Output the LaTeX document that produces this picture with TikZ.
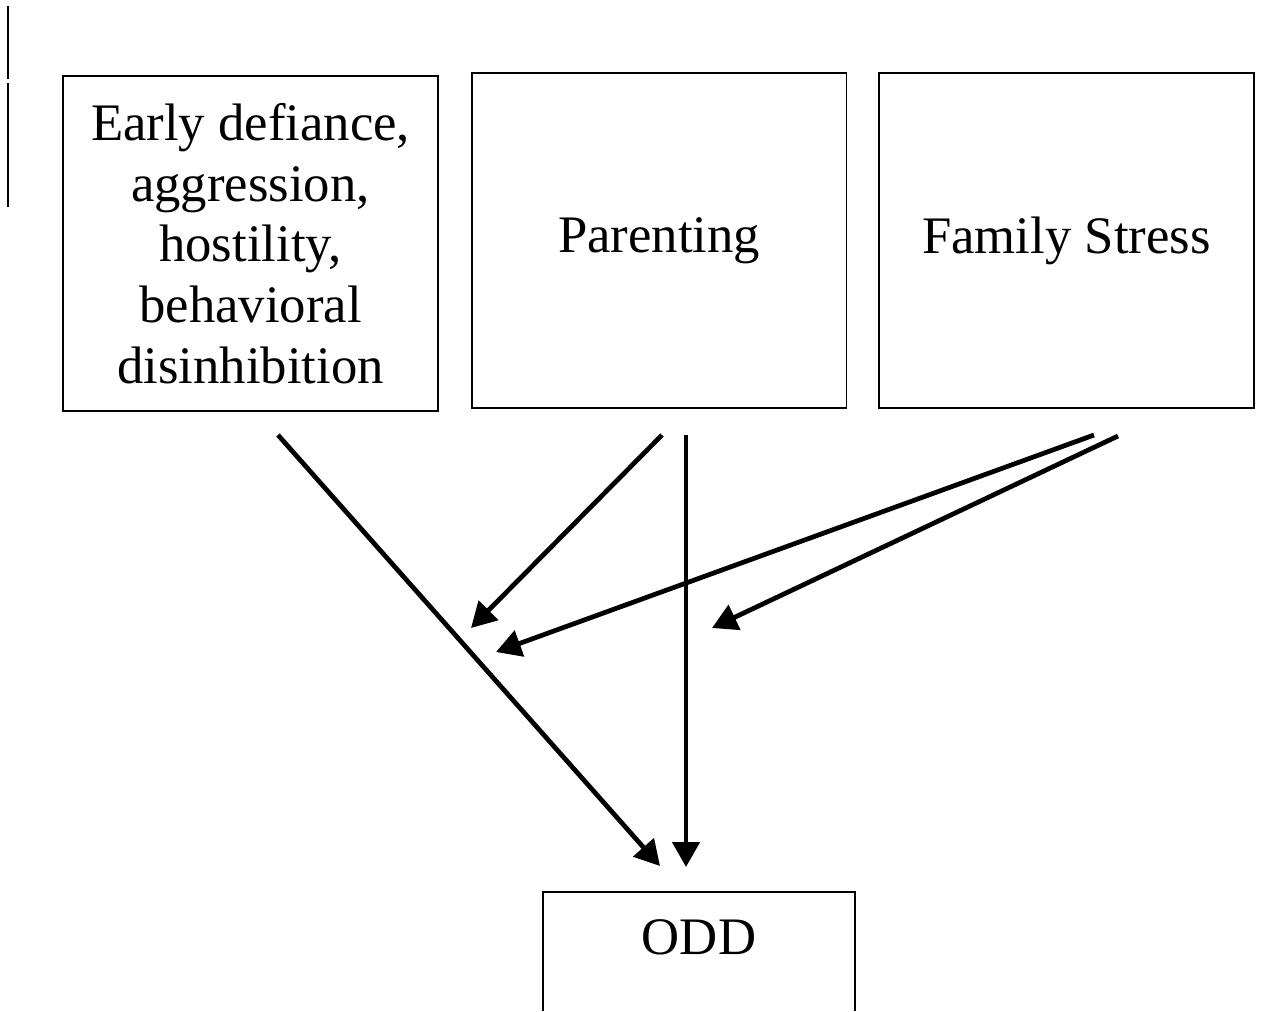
\documentclass[tikz,border=0pt]{standalone}
\usepackage{fontspec}
\setmainfont{Liberation Serif}
\usetikzlibrary{arrows.meta}
\begin{document}
\begin{tikzpicture}[x=0.02cm, y=-0.02cm,
    factor/.style={draw, line width=1.1pt, align=center,
        minimum width=7.5cm, minimum height=6.7cm, inner sep=0pt,
        font=\fontsize{30}{34.5}\selectfont},
    path/.style={line width=2.7pt, -{Triangle[length=0.5cm, width=0.54cm]}}]
    \useasboundingbox (0, 0) rectangle (1261, 1011);
    % margin marks
    \draw [line width=1.1pt] (8, 6) -- (8, 79);
    \draw [line width=1.1pt] (8, 83) -- (8, 207);
    % predictors
    \node (early) [factor] at (250.5, 243.5)
        {Early defiance,\\ aggression,\\ hostility,\\ behavioral\\ disinhibition};
    \node (parent) [factor] at (659, 240.5) {Parenting};
    \node (family) [factor] at (1066.5, 240.5) {Family Stress};
    % outcome
    \draw [line width=1.1pt] (543, 1011) -- (543, 892) -- (855, 892) -- (855, 1011);
    \node (odd) [font=\fontsize{30}{34.5}\selectfont] at (699, 937) {ODD};
    % arrow ends
    \coordinate (early-out) at (278, 435);
    \coordinate (parent-out1) at (662, 435);
    \coordinate (parent-out2) at (686, 435);
    \coordinate (family-out1) at (1094, 435);
    \coordinate (family-out2) at (1118, 436);
    \coordinate (odd-in1) at (660, 866);
    \coordinate (odd-in2) at (686, 867);
    \coordinate (mod1) at (471, 628);
    \coordinate (mod2) at (496, 652);
    \coordinate (mod3) at (712, 628);
    % main effects
    \draw [path] (early-out) -- (odd-in1);
    \draw [path] (parent-out2) -- (odd-in2);
    % moderation
    \draw [path] (parent-out1) -- (mod1);
    \draw [path] (family-out1) -- (mod2);
    \draw [path] (family-out2) -- (mod3);
\end{tikzpicture}
\end{document}
